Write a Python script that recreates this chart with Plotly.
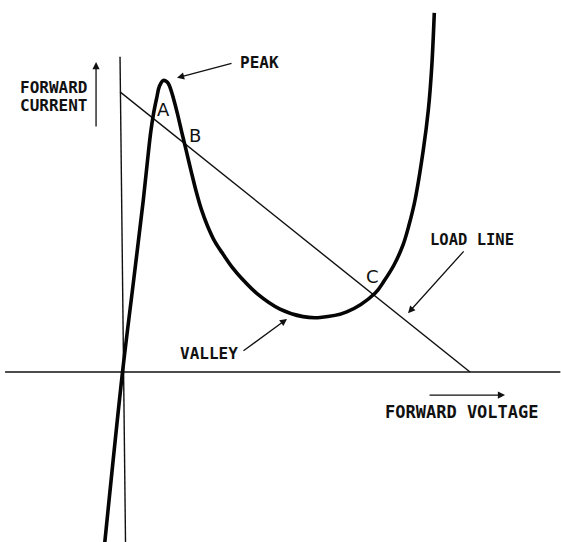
import plotly.graph_objects as go

# Tunnel diode forward characteristic (voltage in mV, current in mA)
diode_v = [-25.9, 0.0, 15.5, 29.9, 37.1, 40.6, 44.3, 49.2, 53.2, 58.7, 64.0, 67.3,
           73.1, 79.4, 85.2, 91.4, 98.6, 105.8, 113.7, 122.3, 133.1, 145.0, 157.6,
           171.5, 193.1, 226.6, 259.7, 284.2, 322.6, 363.3, 376.3, 390.6, 403.6,
           412.2, 420.9, 432.8, 440.0, 444.9, 448.6]
diode_i = [-5.93, 0.0, 3.05, 5.90, 7.51, 8.23, 8.82, 9.40, 9.81, 10.0, 9.95, 9.83,
           9.40, 8.82, 8.23, 7.62, 6.90, 6.21, 5.56, 5.01, 4.46, 4.03, 3.60,
           3.21, 2.70, 2.16, 1.90, 1.87, 2.06, 2.70, 3.12, 3.67, 4.36,
           5.04, 5.90, 7.62, 8.99, 10.46, 12.32]

# Load line: supply voltage and short-circuit current
supply_mv = 500.0
short_ma = 9.54
load_v = [-3.6, supply_mv]
load_i = [short_ma * (1 - v / supply_mv) for v in load_v]

# Hand-drawn axes
axis_x_v = [-169.0, 630.0]
axis_x_i = [0.0, 0.0]
axis_y_v = [-3.6, 4.3]
axis_y_i = [10.81, -5.85]

INK = "#111111"
MONO = "DejaVu Sans Mono"
SANS = "DejaVu Sans"

fig = go.Figure()
fig.add_trace(go.Scatter(x=axis_x_v, y=axis_x_i, mode="lines",
                         line=dict(color=INK, width=1.4), hoverinfo="skip"))
fig.add_trace(go.Scatter(x=axis_y_v, y=axis_y_i, mode="lines",
                         line=dict(color=INK, width=1.4), hoverinfo="skip"))
fig.add_trace(go.Scatter(x=load_v, y=load_i, mode="lines",
                         line=dict(color=INK, width=1.4), hoverinfo="skip"))
fig.add_trace(go.Scatter(x=diode_v, y=diode_i, mode="lines",
                         line=dict(color="#050505", width=3.6, shape="spline", smoothing=1.0),
                         hoverinfo="skip"))

labels = [
    ("FORWARD", -150, 9.76, MONO, 16, "left", "bold"),
    ("CURRENT", -150, 9.13, MONO, 16, "left", "bold"),
    ("PEAK", 166, 10.62, MONO, 16, "left", "bold"),
    ("LOAD LINE", 439.6, 4.53, MONO, 15.5, "left", "bold"),
    ("VALLEY", 79.9, 0.62, MONO, 16, "left", "bold"),
    ("FORWARD VOLTAGE", 375.0, -1.36, MONO, 17, "left", "bold"),
    ("A", 59.4, 9.0, SANS, 18, "center", "normal"),
    ("B", 104.8, 8.12, SANS, 18, "center", "normal"),
    ("C", 359.7, 3.27, SANS, 18, "center", "normal"),
]
for text, x, y, fam, size, anchor, weight in labels:
    fig.add_annotation(x=x, y=y, text=text, showarrow=False, xanchor=anchor,
                       yanchor="middle",
                       font=dict(family=fam, size=size, color=INK, weight=weight))

# Pointer arrows: (tip_v, tip_i, tail_v, tail_i)
arrows = [
    (-38.1, 10.63, -38.1, 8.37),
    (78.4, 10.09, 159.0, 10.60),
    (410.8, 2.02, 492.8, 4.19),
    (236.7, 1.82, 171.9, 0.69),
    (550.4, -0.79, 439.6, -0.79),
]
for tx, ty, sx, sy in arrows:
    fig.add_annotation(x=tx, y=ty, ax=sx, ay=sy, xref="x", yref="y",
                       axref="x", ayref="y", text="", showarrow=True,
                       arrowhead=2, arrowsize=1.1, arrowwidth=1.3, arrowcolor=INK)

fig.update_layout(
    width=561, height=542,
    margin=dict(l=0, r=0, t=0, b=0),
    paper_bgcolor="white", plot_bgcolor="white",
    showlegend=False,
    xaxis=dict(range=[-176.3, 630.9], visible=False, fixedrange=True),
    yaxis=dict(range=[-5.83, 12.76], visible=False, fixedrange=True),
)

fig.write_html("out.html")
